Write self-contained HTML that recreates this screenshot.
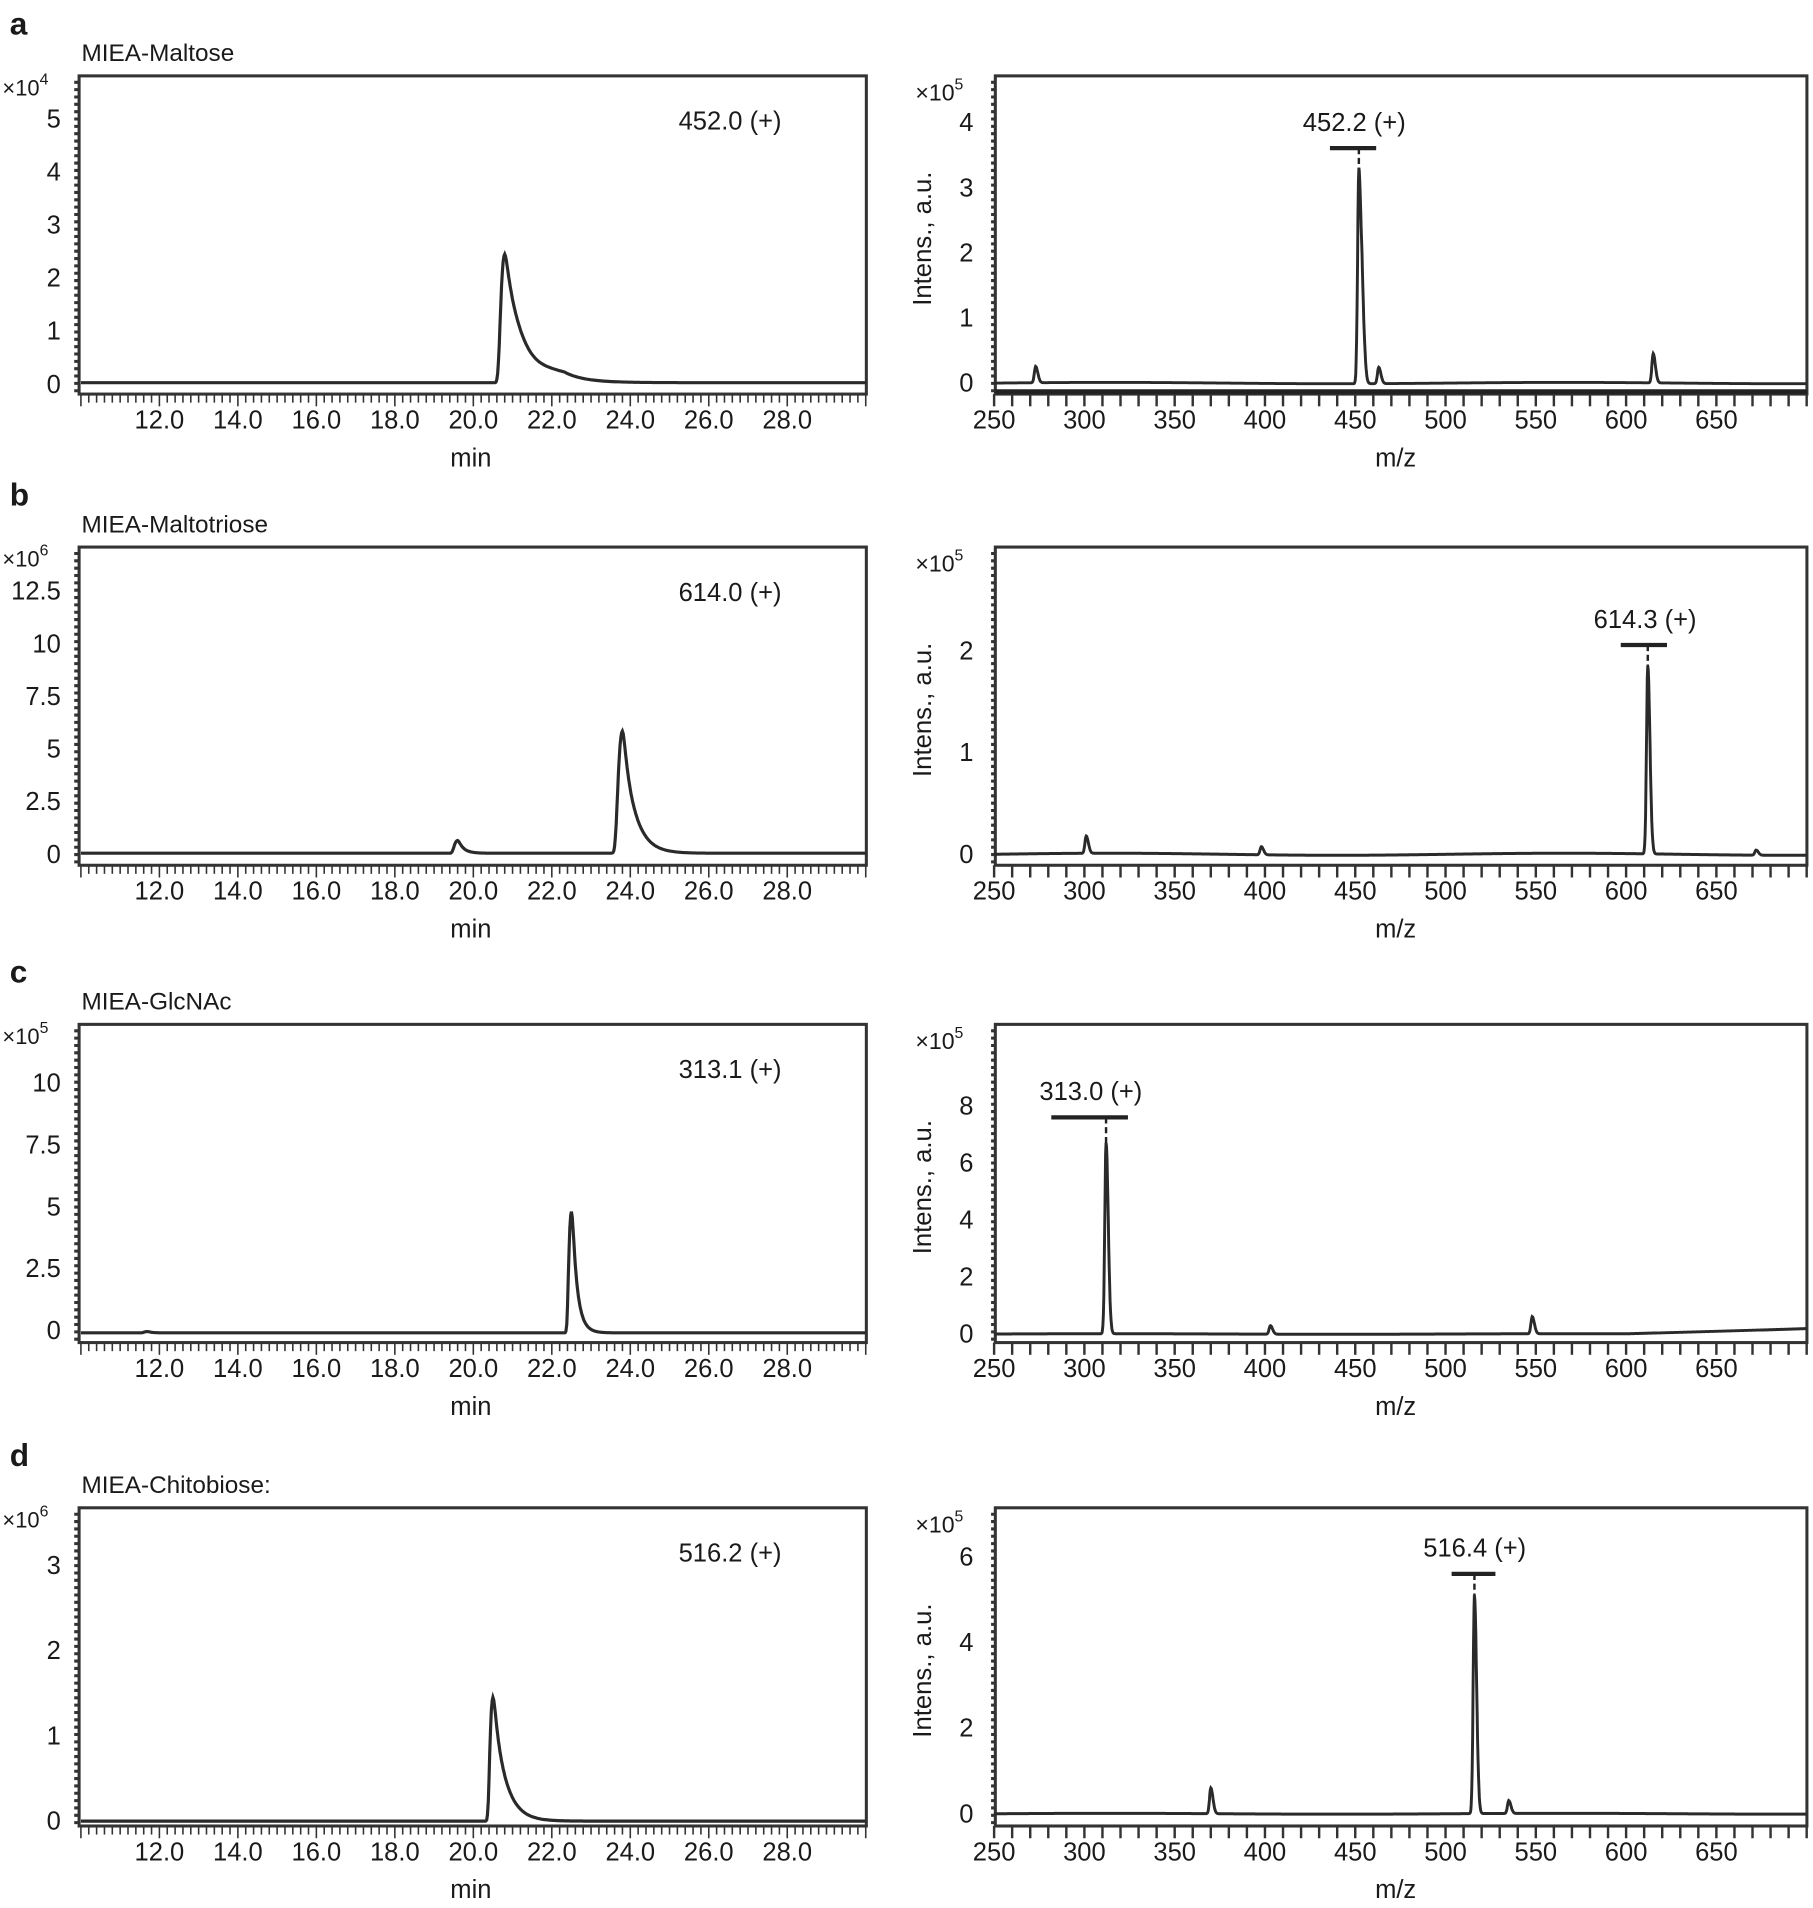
<!DOCTYPE html>
<html><head><meta charset="utf-8">
<style>
html,body{margin:0;padding:0;background:#fff;}
svg{display:block;}
text{font-family:"Liberation Sans",sans-serif;fill:#1a1a1a;}
</style></head>
<body>
<svg id="s" width="1813" height="1908" viewBox="0 0 1490 1559" preserveAspectRatio="none" xmlns="http://www.w3.org/2000/svg"></svg>
<script>
const S=document.getElementById('s');let h='';
function T(x,y,t,sz,anc,extra){h+=`<text x="${x}" y="${y}" font-size="${sz||20}" text-anchor="${anc||'middle'}" ${extra||''}>${t}</text>`;}
const LX0=65,LX1=712,RX0=818,RX1=1485;
const P=[
 {o:0,L:'a',title:'MIEA-Maltose',exL:'4',exR:'5',
  ly0:314,lsc:43.4,lt:[[0,'0'],[1,'1'],[2,'2'],[3,'3'],[4,'4'],[5,'5']],
  lpk:[[20.8,2.42,0.12,0.45],[22.3,0.12,0.6,0.6]],lbase:0.03,ltxt:'452.0 (+)',
  ry0:313,rsc:53.2,rt:[0,1,2,3,4],rpk:[[273,0.25],[452,3.3],[454,0.9],[463,0.25],[615,0.45]],rbar:[1093,1131,121,'452.2 (+)',452]},
 {o:385,L:'b',title:'MIEA-Maltotriose',exL:'6',exR:'5',
  ly0:698,lsc:17.2,lt:[[0,'0'],[2.5,'2.5'],[5,'5'],[7.5,'7.5'],[10,'10'],[12.5,'12.5']],
  lpk:[[19.6,0.6,0.1,0.15],[23.8,5.8,0.13,0.3]],lbase:0.05,ltxt:'614.0 (+)',
  ry0:698,rsc:83,rt:[0,1,2],rpk:[[301,0.17],[398,0.08],[612,1.85],[672,0.05]],rbar:[1332,1370,527,'614.3 (+)',612]},
 {o:775,L:'c',title:'MIEA-GlcNAc',exL:'5',exR:'5',
  ly0:1087,lsc:20.2,lt:[[0,'0'],[2.5,'2.5'],[5,'5'],[7.5,'7.5'],[10,'10']],
  lpk:[[22.5,4.9,0.08,0.14],[11.7,0.05,0.1,0.1]],lbase:-0.1,ltxt:'313.1 (+)',
  ry0:1090,rsc:23.3,rt:[0,2,4,6,8],rpk:[[312,6.7],[403,0.3],[548,0.6]],rbar:[864,927,913,'313.0 (+)',312]},
 {o:1170,L:'d',title:'MIEA-Chitobiose:',exL:'6',exR:'5',
  ly0:1488,lsc:69.7,lt:[[0,'0'],[1,'1'],[2,'2'],[3,'3']],
  lpk:[[20.5,1.45,0.09,0.3]],lbase:0,ltxt:'516.2 (+)',
  ry0:1482,rsc:35,rt:[0,2,4,6],rpk:[[370,0.6],[516,5.1],[535,0.3]],rbar:[1193,1229,1286,'516.4 (+)',516]}
];
for(const p of P){
 const o=p.o, top=62+o, bot=322+o;
 T(8,28+o,p.L,26,'start','font-weight="bold"');
 T(67,50+o,p.title,20,'start');
 h+=`<rect x="${LX0}" y="${top}" width="${LX1-LX0}" height="${bot-top}" fill="none" stroke="#333" stroke-width="2.5"/>`;
 h+=`<line x1="${LX0-2}" y1="${top+4}" x2="${LX0-2}" y2="${bot}" stroke="#333" stroke-width="4" stroke-dasharray="2.5,3.5"/>`;
 T(2,78+o,'×10<tspan font-size="13" dy="-9">'+p.exL+'</tspan>',18,'start');
 for(const [v,s] of p.lt) T(50,p.ly0-v*p.lsc+7,s,21,'end');
 const tx=t=>66.5+(t-10)*32.25;
 for(let t=10;t<=30.001;t+=0.2){const X=tx(t);const maj=Math.abs(t/2-Math.round(t/2))<0.01;h+=`<line x1="${X}" y1="${bot}" x2="${X}" y2="${bot+(maj?10:7)}" stroke="#333" stroke-width="1.3"/>`;}
 for(let t=12;t<=28;t+=2) T(tx(t),350+o,t.toFixed(1),21);
 T(387,381+o,'min',21);
 T(600,106+o,p.ltxt,21);
 let d='';
 for(let t=10;t<=30;t+=0.02){let v=p.lbase;for(const [c,a,w1,w2] of p.lpk){const z=(t-c)/w1;v+=t<c?a*Math.exp(-z*z/2*(1+0.6*z*z)):a*Math.exp(-(t-c)/w2)*(1-Math.exp(-((t-c)/0.05)))+a*Math.exp(-((t-c)/0.05));}
  const Y=p.ly0-v*p.lsc;d+=(d?'L':'M')+tx(t).toFixed(1)+','+Y.toFixed(1);}
 h+=`<path d="${d}" fill="none" stroke="#2a2a2a" stroke-width="2.6"/>`;
 h+=`<rect x="${RX0}" y="${top}" width="${RX1-RX0}" height="${bot-top}" fill="none" stroke="#333" stroke-width="2.5"/>`;
 h+=`<line x1="${RX0-2}" y1="${top+4}" x2="${RX0-2}" y2="${bot}" stroke="#333" stroke-width="3" stroke-dasharray="2.5,3.5"/>`;
 T(772,82+o,'×10<tspan font-size="13" dy="-9">'+p.exR+'</tspan>',19,'middle');
 for(const v of p.rt) T(800,p.ry0-v*p.rsc+7,String(v),21,'end');
 T(765,195+o,'Intens., a.u.',21,'middle',`transform="rotate(-90 765 ${195+o})"`);
 const mx=m=>817+(m-250)*1.484;
 for(let m=250;m<=700;m+=10){const X=mx(m);h+=`<line x1="${X}" y1="${bot}" x2="${X}" y2="${bot+10}" stroke="#333" stroke-width="2"/>`;}
 for(let m=250;m<=650;m+=50) T(mx(m),350+o,String(m),21);
 T(1147,381+o,'m/z',21);
 if(p.L==='a'){h+=`<line x1="${RX0}" y1="${bot-2}" x2="${RX1}" y2="${bot-2}" stroke="#222" stroke-width="4"/>`;}
 d='';
 for(let m=250;m<=700;m+=0.25){let v=0.01*Math.sin(m/40);
  if(p.L==='c'&&m>600)v+=(m-600)/100*0.2;
  for(const [c,a] of p.rpk){const z=(m-c)/(m<c?0.7:1.2);v+=a*Math.exp(-z*z/2);}
  d+=(d?'L':'M')+mx(m).toFixed(1)+','+(p.ry0-v*p.rsc).toFixed(1);}
 h+=`<path d="${d}" fill="none" stroke="#2a2a2a" stroke-width="2.4"/>`;
 const [b0,b1,by,bl,bm]=p.rbar;
 h+=`<line x1="${b0}" y1="${by}" x2="${b1}" y2="${by}" stroke="#222" stroke-width="3.5"/>`;
 const pk=p.rpk.find(q=>q[0]===bm);
 h+=`<line x1="${mx(bm)}" y1="${by}" x2="${mx(bm)}" y2="${p.ry0-pk[1]*p.rsc}" stroke="#222" stroke-width="2" stroke-dasharray="5,3"/>`;
 T((b0+b1)/2+1,by-14,bl,21);
}
S.innerHTML=h;
</script>
</body></html>
